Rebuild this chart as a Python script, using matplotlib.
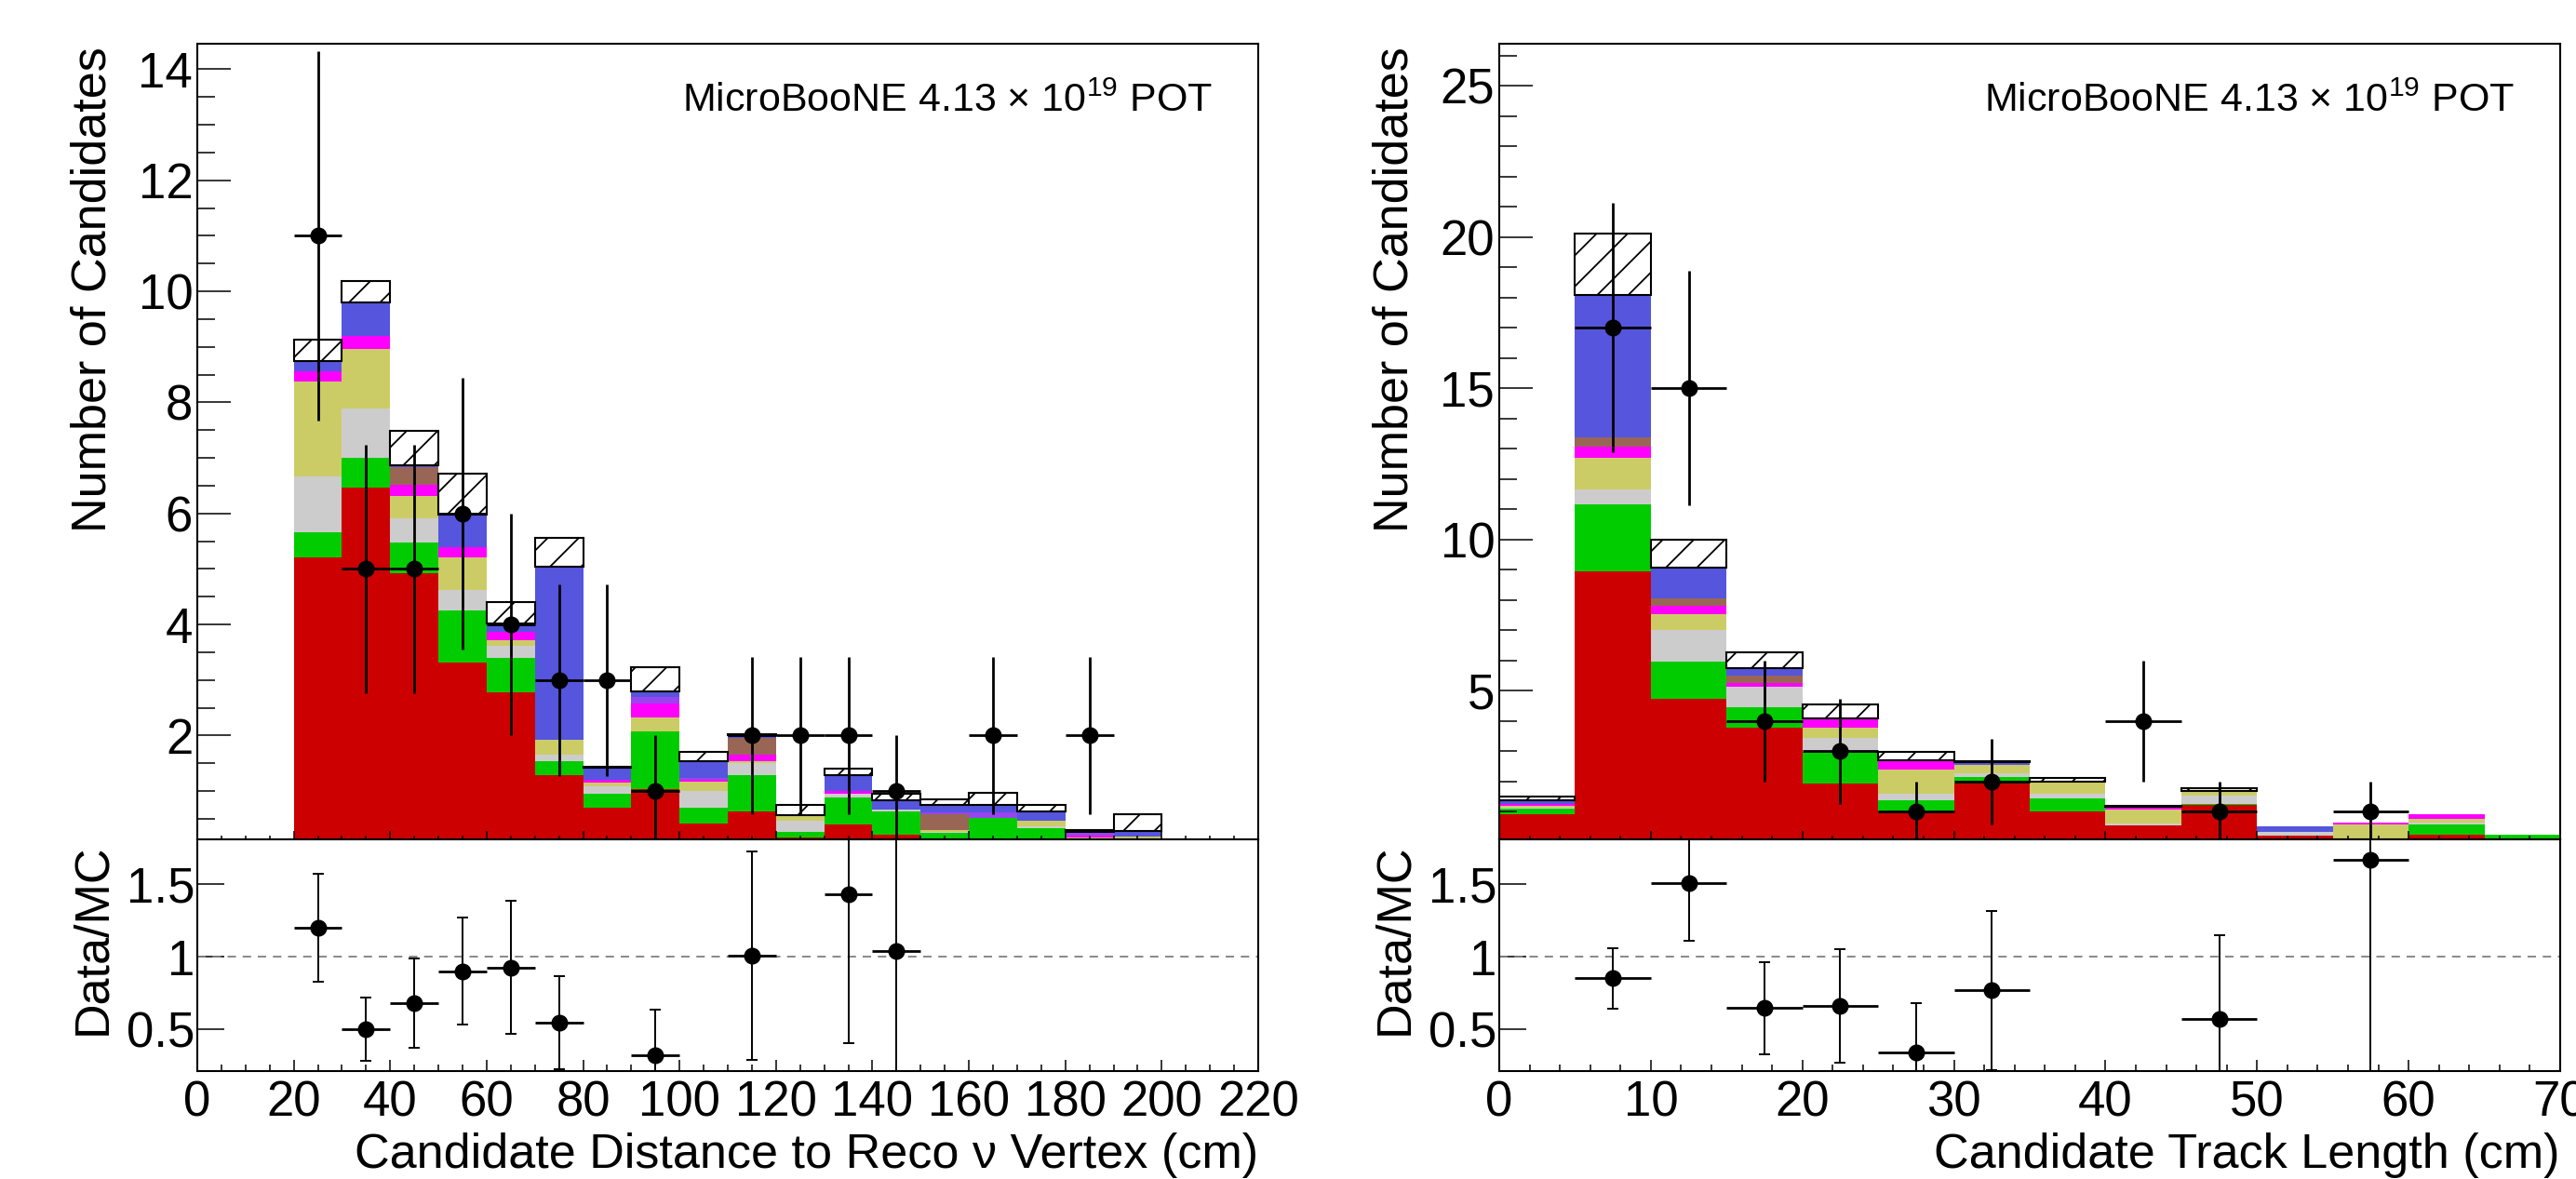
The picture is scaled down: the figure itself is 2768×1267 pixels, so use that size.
import numpy as np
import matplotlib
matplotlib.use("Agg")
import matplotlib.pyplot as plt
from matplotlib.ticker import MultipleLocator

plt.rcParams["font.family"] = ["Liberation Sans", "DejaVu Sans"]
plt.rcParams["mathtext.fontset"] = "custom"
plt.rcParams["mathtext.rm"] = "Liberation Sans"
plt.rcParams["hatch.linewidth"] = 1.3

# stack order, bottom to top
layer_colors = ["#cc0000", "#00cc00", "#cccccc", "#cccc66",
                "#ff00ff", "#996655", "#9944ee", "#5555dd"]

# ---------------- left: distance to reco vertex, 10 cm bins 20..200
dist_edges = np.arange(20, 201, 10)
dist_red    = [5.21, 6.47, 4.92, 3.32, 2.78, 1.28, 0.70, 1.03, 0.42, 0.64, 0.17, 0.40, 0.22, 0.05, 0.05, 0.05, 0.00, 0.00]
dist_green  = [0.45, 0.54, 0.56, 0.93, 0.62, 0.25, 0.25, 1.05, 0.28, 0.65, 0.10, 0.49, 0.42, 0.20, 0.46, 0.28, 0.00, 0.00]
dist_gray   = [1.01, 0.88, 0.44, 0.37, 0.22, 0.13, 0.14, 0.00, 0.30, 0.22, 0.20, 0.06, 0.02, 0.02, 0.00, 0.03, 0.10, 0.10]
dist_khaki  = [1.71, 1.08, 0.39, 0.59, 0.10, 0.26, 0.06, 0.25, 0.17, 0.02, 0.08, 0.00, 0.00, 0.03, 0.00, 0.11, 0.07, 0.08]
dist_mag    = [0.18, 0.23, 0.21, 0.18, 0.14, 0.00, 0.05, 0.25, 0.03, 0.12, 0.02, 0.05, 0.00, 0.00, 0.00, 0.00, 0.03, 0.00]
dist_brown  = [0.00, 0.00, 0.32, 0.00, 0.00, 0.00, 0.00, 0.00, 0.00, 0.30, 0.00, 0.00, 0.00, 0.28, 0.00, 0.00, 0.00, 0.00]
dist_violet = [0.00, 0.00, 0.00, 0.00, 0.00, 0.00, 0.00, 0.12, 0.03, 0.00, 0.00, 0.00, 0.00, 0.04, 0.10, 0.00, 0.06, 0.00]
dist_blue   = [0.19, 0.60, 0.03, 0.59, 0.15, 3.12, 0.22, 0.10, 0.31, 0.06, 0.00, 0.28, 0.17, 0.13, 0.14, 0.17, 0.00, 0.10]
dist_hatch  = [0.38, 0.38, 0.61, 0.73, 0.40, 0.52, 0.02, 0.43, 0.16, 0.02, 0.18, 0.13, 0.12, 0.10, 0.22, 0.11, 0.04, 0.30]

dist_data_x = [25, 35, 45, 55, 65, 75, 85, 95, 115, 125, 135, 145, 165, 185]
dist_data_y = [11, 5, 5, 6, 4, 3, 3, 1, 2, 2, 2, 1, 2, 2]
dist_data_err = [3.32, 2.24, 2.24, 2.45, 2.0, 1.73, 1.73, 1.0, 1.41, 1.41, 1.41, 1.0, 1.41, 1.41]

dist_ratio_x = [25, 35, 45, 55, 65, 75, 95, 115, 135, 145]
dist_ratio_y = [1.20, 0.50, 0.68, 0.90, 0.925, 0.546, 0.317, 1.006, 1.43, 1.04]
dist_ratio_err = [0.37, 0.22, 0.31, 0.37, 0.46, 0.32, 0.32, 0.72, 1.03, 1.05]

# ---------------- right: track length, 5 cm bins 0..70
len_edges = np.arange(0, 71, 5)
len_red    = [0.92, 8.94, 4.75, 3.77, 1.95, 1.02, 1.95, 1.02, 0.56, 1.22, 0.22, 0.00, 0.25, 0.00]
len_green  = [0.19, 2.21, 1.23, 0.69, 1.02, 0.36, 0.20, 0.41, 0.00, 0.05, 0.00, 0.05, 0.33, 0.25]
len_gray   = [0.04, 0.52, 1.02, 0.66, 0.46, 0.23, 0.13, 0.16, 0.04, 0.28, 0.12, 0.05, 0.05, 0.00]
len_khaki  = [0.04, 1.04, 0.54, 0.00, 0.36, 0.80, 0.28, 0.41, 0.47, 0.13, 0.00, 0.48, 0.14, 0.00]
len_mag    = [0.06, 0.36, 0.26, 0.14, 0.31, 0.30, 0.00, 0.00, 0.11, 0.00, 0.00, 0.06, 0.15, 0.00]
len_brown  = [0.00, 0.31, 0.25, 0.24, 0.00, 0.00, 0.00, 0.00, 0.00, 0.00, 0.00, 0.00, 0.00, 0.00]
len_violet = [0.00, 0.00, 0.00, 0.00, 0.00, 0.00, 0.00, 0.00, 0.00, 0.00, 0.00, 0.00, 0.00, 0.00]
len_blue   = [0.12, 4.69, 1.02, 0.24, 0.00, 0.00, 0.08, 0.00, 0.00, 0.00, 0.17, 0.00, 0.00, 0.00]
len_hatch  = [0.15, 2.04, 0.92, 0.54, 0.46, 0.28, 0.02, 0.13, 0.03, 0.10, 0.00, 0.00, 0.00, 0.00]

len_data_x = [7.5, 12.5, 17.5, 22.5, 27.5, 32.5, 42.5, 47.5, 57.5]
len_data_y = [17, 15, 4, 3, 1, 2, 4, 1, 1]
len_data_err = [4.12, 3.87, 2.0, 1.73, 1.0, 1.41, 2.0, 1.0, 1.0]

len_ratio_x = [7.5, 12.5, 17.5, 22.5, 27.5, 32.5, 47.5, 57.5]
len_ratio_y = [0.85, 1.507, 0.644, 0.66, 0.34, 0.766, 0.573, 1.67]
len_ratio_err = [0.21, 0.40, 0.32, 0.39, 0.34, 0.55, 0.573, 1.67]

W, H = 2768, 1267
fig = plt.figure(figsize=(W / 100, H / 100), dpi=100)


def box(x0, x1, y_top, y_bot):
    return [x0 / W, 1 - y_bot / H, (x1 - x0) / W, (y_bot - y_top) / H]


def style(ax):
    for s in ax.spines.values():
        s.set_linewidth(1.5)


def panel(left, edges, layers, hatch, dx, dy, derr, rx, ry, rerr,
          xlim, ylim, ymaj, ymin, xmaj, xmin, xlabel):
    ax = fig.add_axes(box(left, left + 1140, 47, 902))
    axr = fig.add_axes(box(left, left + 1140, 902, 1151))
    half = (edges[1] - edges[0]) / 2

    bottom = np.zeros(len(edges) - 1)
    for vals, col in zip(layers, layer_colors):
        top = bottom + np.array(vals)
        ax.stairs(top, edges, baseline=bottom, fill=True, color=col, lw=0)
        bottom = top
    hatch = np.array(hatch)
    m = hatch > 0
    ax.bar(edges[:-1][m], hatch[m], width=np.diff(edges)[m], bottom=bottom[m],
           align="edge", facecolor="white", edgecolor="black", hatch="/", lw=1.5)

    ax.errorbar(dx, dy, yerr=derr, xerr=half, fmt="o", color="black",
                ms=12, elinewidth=2.0, capsize=0, zorder=5)

    ax.set_xlim(*xlim)
    ax.set_ylim(*ylim)
    ax.xaxis.set_major_locator(MultipleLocator(xmaj))
    ax.xaxis.set_minor_locator(MultipleLocator(xmin))
    ax.yaxis.set_major_locator(MultipleLocator(ymaj))
    ax.yaxis.set_minor_locator(MultipleLocator(ymin))
    ax.tick_params(axis="y", which="major", direction="in", length=26, width=1.1,
                   labelsize=38, pad=3.5)
    ax.tick_params(axis="y", which="minor", direction="in", length=14, width=1.1)
    ax.tick_params(axis="x", which="major", direction="in", length=6.5, width=1.1,
                   labelbottom=False)
    ax.tick_params(axis="x", which="minor", direction="in", length=3.2, width=1.1)
    ax.set_ylabel("Number of Candidates", fontsize=37.5, ha="right", va="baseline",
                  rotation_mode="anchor")
    ax.yaxis.set_label_coords(-0.086, 0.996)
    ax.text(0.957, 0.9146, "MicroBooNE 4.13 × 10$^{19}$ POT", transform=ax.transAxes,
            ha="right", va="baseline", fontsize=31)
    style(ax)

    axr.axhline(1.0, color="#808080", lw=1.3, ls=(0, (5, 4)))
    axr.errorbar(rx, ry, yerr=rerr, fmt="o", color="black", ms=12,
                 elinewidth=1.4, capsize=4.5, capthick=1.4, zorder=5)
    axr.errorbar(rx, ry, xerr=half, fmt="none", ecolor="black",
                 elinewidth=2.0, capsize=0, zorder=5)
    axr.set_xlim(*xlim)
    axr.set_ylim(0.21, 1.81)
    axr.set_yticks([0.5, 1.0, 1.5], ["0.5", "1", "1.5"])
    axr.xaxis.set_major_locator(MultipleLocator(xmaj))
    axr.xaxis.set_minor_locator(MultipleLocator(xmin))
    axr.tick_params(axis="y", which="major", direction="in", length=21, width=1.1,
                    labelsize=38, pad=2)
    axr.tick_params(axis="x", which="major", direction="in", length=8.6, width=1.1,
                    labelsize=38, pad=7)
    axr.tick_params(axis="x", which="minor", direction="in", length=4.7, width=1.1)
    axr.set_ylabel("Data/MC", fontsize=37.5, ha="right", va="baseline",
                   rotation_mode="anchor")
    axr.yaxis.set_label_coords(-0.087, 0.98)
    axr.set_xlabel(xlabel, fontsize=37.5, ha="right", va="baseline")
    axr.xaxis.set_label_coords(1.0, -0.418)
    style(axr)


panel(212, dist_edges,
      [dist_red, dist_green, dist_gray, dist_khaki, dist_mag, dist_brown, dist_violet, dist_blue],
      dist_hatch, dist_data_x, dist_data_y, dist_data_err,
      dist_ratio_x, dist_ratio_y, dist_ratio_err,
      (0, 220), (0.13, 14.46), 2, 0.5, 20, 5,
      "Candidate Distance to Reco ν Vertex (cm)")

panel(1611, len_edges,
      [len_red, len_green, len_gray, len_khaki, len_mag, len_brown, len_violet, len_blue],
      len_hatch, len_data_x, len_data_y, len_data_err,
      len_ratio_x, len_ratio_y, len_ratio_err,
      (0, 70), (0.09, 26.39), 5, 1, 10, 2,
      "Candidate Track Length (cm)")

fig.savefig("out.png", dpi=100, facecolor="white")
